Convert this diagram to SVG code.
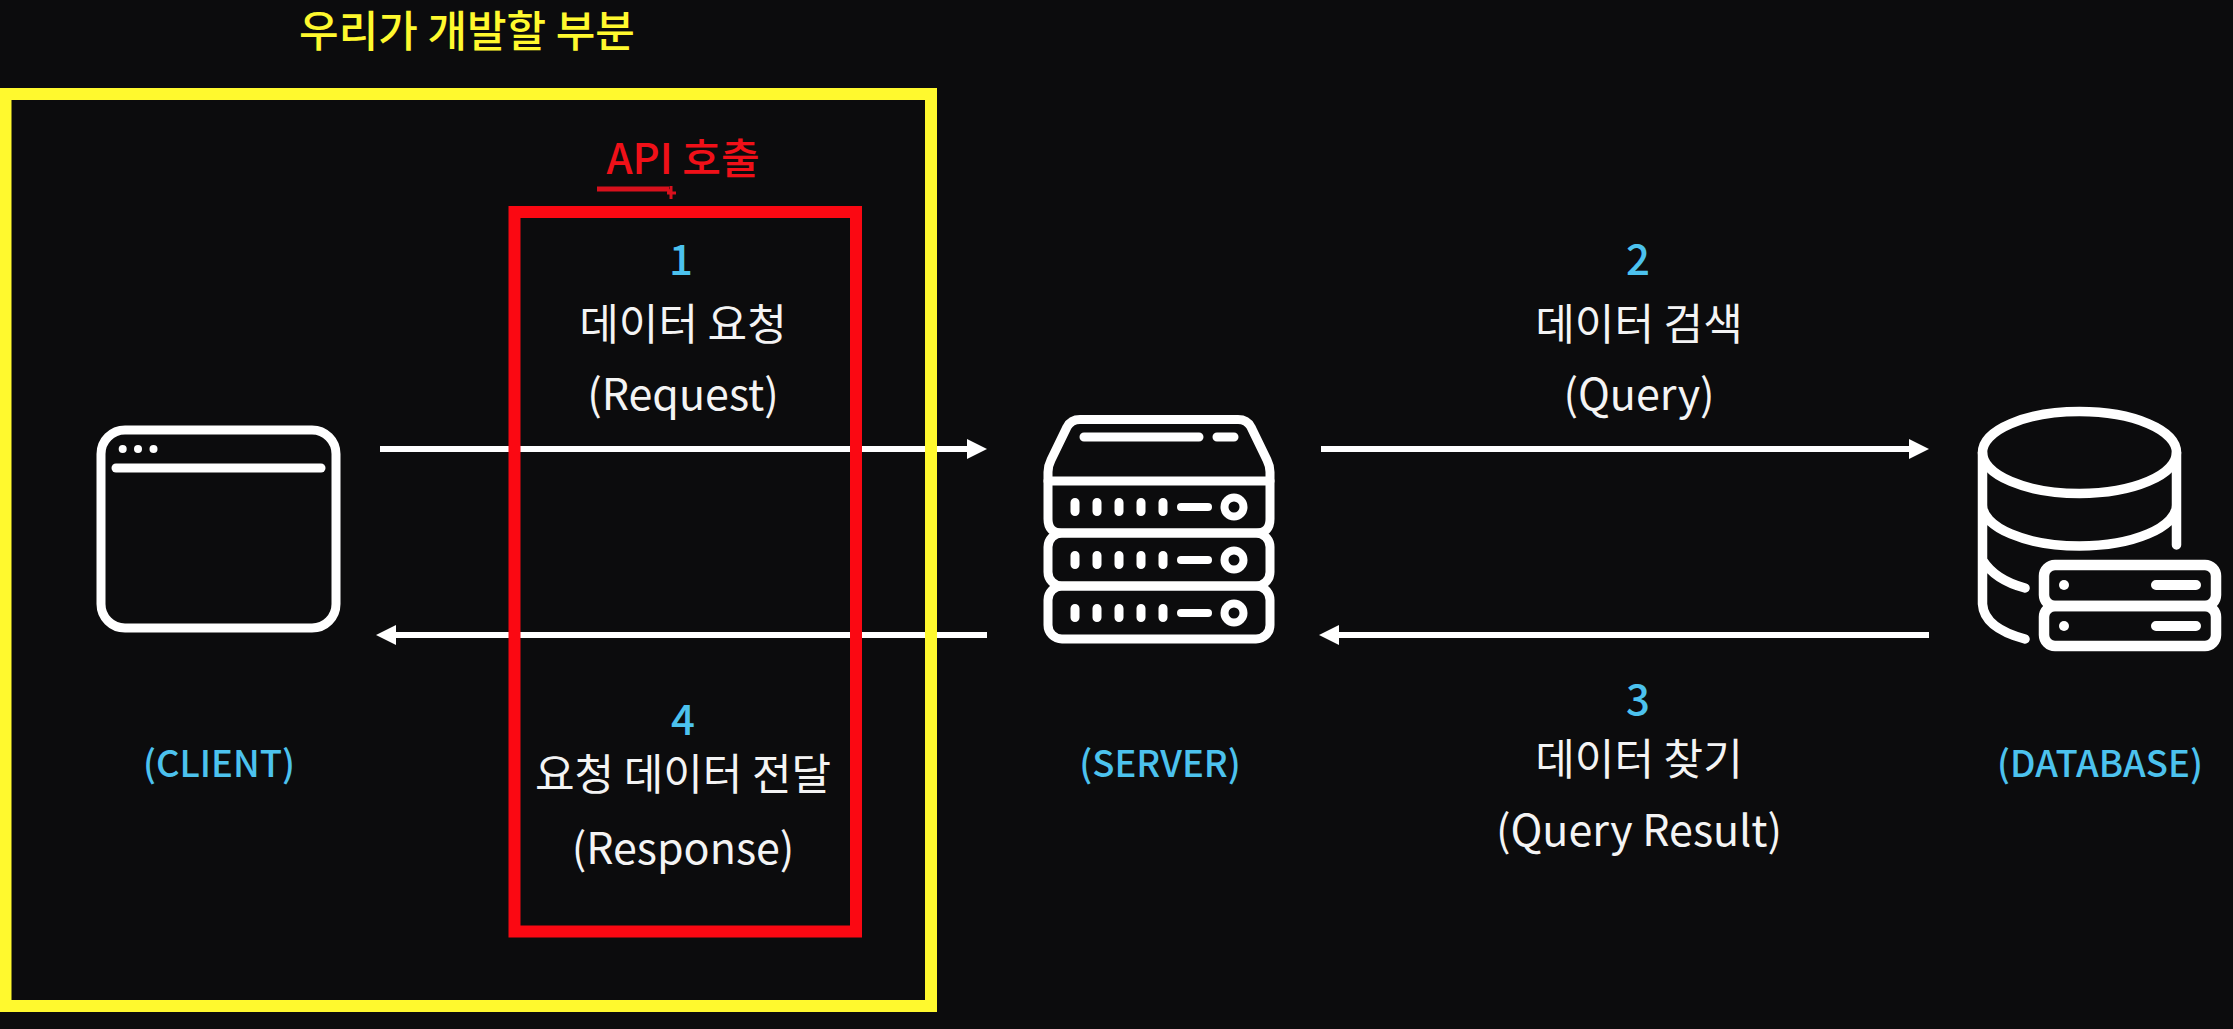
<svg xmlns="http://www.w3.org/2000/svg" width="2233" height="1029" viewBox="0 0 2233 1029">
<defs>
<style>
text{font-family:"Noto Sans CJK KR","Noto Sans",sans-serif;text-anchor:middle}
.w{fill:#f4f4f4;font-size:43px;font-weight:400}
.n{fill:#4cc2ee;font-size:42px;font-weight:500}
.c{fill:#4cc2ee;font-size:36.500px;font-weight:500}
.i{fill:none;stroke:#fff;stroke-width:9;stroke-linecap:round;stroke-linejoin:round}
.t{stroke-width:8}
.d{fill:#fff}
.a{stroke:#fff;stroke-width:6;fill:none}
</style>
<marker id="ah" markerUnits="userSpaceOnUse" markerWidth="20" markerHeight="20" refX="10" refY="10" orient="auto-start-reverse"><path d="M0 0L20 10L0 20Z" fill="#fff"/></marker>
<g id="led"><path class="i" d="M1075 502.500V511.500M1097 502.500V511.500M1119 502.500V511.500M1141 502.500V511.500M1163 502.500V511.500"/><path class="i t" d="M1181 507H1208"/><circle class="i t" cx="1234" cy="507" r="9.500"/></g>
</defs>
<rect width="2233" height="1029" fill="#0c0c0d"/>
<g id="connectors">
<path class="a" d="M380 449H977" marker-end="url(#ah)"/>
<path class="a" d="M1321 449H1919" marker-end="url(#ah)"/>
<path class="a" d="M987 635H386" marker-end="url(#ah)"/>
<path class="a" d="M1929 635H1329" marker-end="url(#ah)"/>
</g>
<g id="developed-area">
<rect x="5.500" y="94" width="925.500" height="912" fill="none" stroke="#fff92e" stroke-width="12"/>
<text x="467" y="47" fill="#fff92e" font-size="43" font-weight="500">우리가 개발할 부분</text>
</g>
<g id="api-call">
<rect x="514.500" y="212" width="341.500" height="719.500" fill="none" stroke="#fb0812" stroke-width="12"/>
<text x="683" y="174" fill="#f01018" font-size="42" font-weight="500">API 호출</text>
<path d="M667 189L671 193M671 186V199M667 193H676" fill="none" stroke="#d8101c" stroke-width="3"/>
<path d="M597 189H669" stroke="#d8101c" stroke-width="5" fill="none"/>
</g>
<g id="label-1">
<text class="n" x="681" y="275">1</text>
<text class="w" x="683" y="340">데이터 요청</text>
<text class="w" x="683" y="410">(Request)</text>
</g>
<g id="label-2">
<text class="n" x="1638" y="275">2</text>
<text class="w" x="1639" y="340">데이터 검색</text>
<text class="w" x="1639" y="410">(Query)</text>
</g>
<g id="label-3">
<text class="n" x="1638" y="715">3</text>
<text class="w" x="1639" y="775">데이터 찾기</text>
<text class="w" x="1639" y="846">(Query Result)</text>
</g>
<g id="label-4">
<text class="n" x="683" y="735">4</text>
<text class="w" x="683" y="790">요청 데이터 전달</text>
<text class="w" x="683" y="864">(Response)</text>
</g>
<g id="client">
<rect class="i" x="101" y="430" width="235" height="198" rx="24"/>
<path class="i" d="M116 468H321"/>
<circle class="d" cx="122.700" cy="449" r="4"/><circle class="d" cx="138" cy="449" r="4"/><circle class="d" cx="153.500" cy="449" r="4"/>
<text class="c" x="219" y="777">(CLIENT)</text>
</g>
<g id="server">
<path class="i" d="M1080 419.500H1238Q1247 419.500 1251 427L1267 460Q1270 466 1270 472V519Q1270 533 1256 533H1062Q1048 533 1048 519V472Q1048 466 1051 460L1067 427Q1071 419.500 1080 419.500Z"/>
<path class="i" d="M1048 481H1270"/>
<rect class="i" x="1048" y="533" width="222" height="53" rx="14"/>
<rect class="i" x="1048" y="586" width="222" height="53" rx="14"/>
<path class="i" d="M1084 437H1199M1217 437H1234"/>
<use href="#led"/>
<use href="#led" y="53"/>
<use href="#led" y="106"/>
<text class="c" x="1160" y="777">(SERVER)</text>
</g>
<g id="database">
<ellipse class="i" style="stroke-width:9.500" cx="2079.500" cy="452.500" rx="97" ry="41"/>
<path class="i" style="stroke-width:9.500" d="M1982.500 452.500V604Q1984 628 2025 639M1982.500 505A97 41 0 0 0 2176.500 505M2176.500 452.500V545M1982.500 560Q1995 580 2025 588"/>
<rect class="i" style="stroke-width:10.500" x="2044" y="565" width="172" height="41" rx="11"/>
<rect class="i" style="stroke-width:10.500" x="2044" y="606" width="172" height="40" rx="11"/>
<circle class="d" cx="2064" cy="585" r="5"/><circle class="d" cx="2064" cy="626" r="5"/>
<path class="i" style="stroke-width:10" d="M2156 585H2196M2156 626H2196"/>
<text class="c" x="2100" y="777">(DATABASE)</text>
</g>
</svg>
